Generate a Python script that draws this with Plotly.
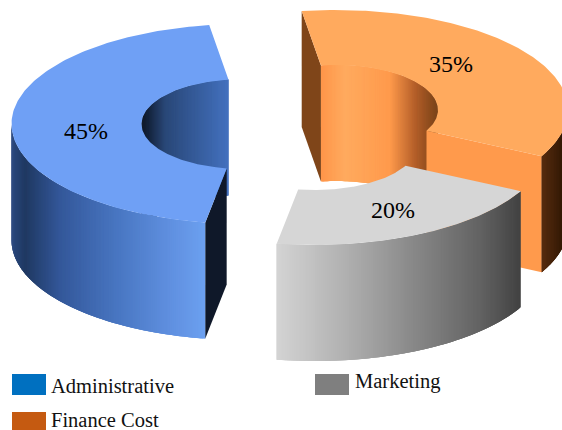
import numpy as np
import plotly.graph_objects as go

# ---- data ----
categories = ["Finance Cost", "Marketing", "Administrative"]
values = [35, 20, 45]

# ---- styles / layout ----
START = -8.5
RX, RY, IRX, IRY, DEPTH = 232, 100, 102, 45, 116
centers = {"Finance Cost": (336, 110), "Marketing": (315, 145), "Administrative": (243.5, 124)}
top_col = {"Finance Cost": "#FFAA5E", "Marketing": "#D6D6D6", "Administrative": "#6FA0F5"}
cut_col = {"Finance Cost": ("#7F4519", "#FF9A4C"), "Marketing": ("#999999", "#999999"),
           "Administrative": ("#0F1829", "#0F1829")}
outer_stops = {
    "Finance Cost": [(426, "#5A2E10"), (540, "#5A2E10"), (562, "#351A06")],
    "Marketing": [(276, "#D4D4D4"), (340, "#B4B4B4"), (420, "#858585"), (480, "#636363"), (521, "#424242")],
    "Administrative": [(12, "#2C4A80"), (25, "#203962"), (60, "#34589A"), (120, "#4A78C4"), (170, "#6090E0"), (204, "#6CA0F0")],
}
inner_stops = {
    "Finance Cost": [(321, "#FF964A"), (345, "#FFAB5F"), (390, "#FF9A4C"), (415, "#B5602A"), (437, "#7A4318")],
    "Marketing": [(299, "#999999"), (420, "#999999")],
    "Administrative": [(143, "#0E1829"), (165, "#2A4878"), (229, "#4472C0")],
}
label_pos = {"Finance Cost": (451, 64), "Marketing": (393, 210), "Administrative": (86, 131)}
legend_items = [("Administrative", "#0070C0", 12, 374, 395, 49, 386),
                ("Finance Cost", "#C55A11", 12, 412, 430, 49, 420),
                ("Marketing", "#7F7F7F", 315, 374, 395, 353, 381)]
FONT = "Liberation Serif"
STEP = 0.5


def interp_col(x, stops):
    xs = [s[0] for s in stops]
    out = []
    for i in (1, 3, 5):
        out.append(np.interp(x, xs, [int(s[1][i:i + 2], 16) for s in stops]))
    return "rgb(%d,%d,%d)" % tuple(out)


fig = go.Figure()


def poly(xs, ys, col, edge=0.0):
    fig.add_trace(go.Scatter(x=list(xs), y=list(ys), mode="lines", fill="toself", fillcolor=col,
                             line=dict(color=col, width=edge), hoverinfo="skip"))


def pt(c, rx, ry, deg):
    r = np.radians(deg)
    return c[0] + rx * np.sin(r), c[1] - ry * np.cos(r)


def wall(c, rx, ry, a, b, stops):
    ts = np.arange(a, b, STEP)
    for t0 in ts:
        # each strip runs on under the next one, so no seam shows between them
        t1 = min(t0 + 3 * STEP, b)
        x0, y0 = pt(c, rx, ry, t0)
        x1, y1 = pt(c, rx, ry, t1)
        xm, _ = pt(c, rx, ry, t0 + STEP / 2)
        poly([x0, x1, x1, x0, x0], [y0, y1, y1 + DEPTH, y0 + DEPTH, y0], interp_col(xm, stops))


def cut(c, deg, col):
    xo, yo = pt(c, RX, RY, deg)
    xi, yi = pt(c, IRX, IRY, deg)
    poly([xo, xi, xi, xo, xo], [yo, yi, yi + DEPTH, yo + DEPTH, yo], col)


def overlap(a, b, lo, hi):
    """Clip the sweep [a, b] to the visible arc [lo, hi], modulo a full turn."""
    for k in (-360, 0, 360):
        s, e = max(a, lo + k), min(b, hi + k)
        if e > s:
            return s, e
    return None


total = sum(values)
angle = START
slices = []
for name, v in zip(categories, values):
    sweep = 360 * v / total
    slices.append((name, v, angle, angle + sweep))
    angle += sweep

for name, v, a, b in slices:
    c = centers[name]
    rng = overlap(a, b, -90, 90)
    if rng:
        wall(c, IRX, IRY, rng[0], rng[1], inner_stops[name])
    if np.sin(np.radians(a)) < 0:
        cut(c, a, cut_col[name][0])
    if np.sin(np.radians(b)) > 0:
        cut(c, b, cut_col[name][1])
    rng = overlap(a, b, 90, 270)
    if rng:
        wall(c, RX, RY, rng[0], rng[1], outer_stops[name])
    ts = np.linspace(a, b, 160)
    ox, oy = pt(c, RX, RY, ts)
    ix, iy = pt(c, IRX, IRY, ts[::-1])
    poly(np.r_[ox, ix, ox[0]], np.r_[oy, iy, oy[0]], top_col[name])

annotations = []
for name, v, a, b in slices:
    lx, ly = label_pos[name]
    annotations.append(dict(x=lx, y=ly, text=f"{v}%", showarrow=False, xref="x", yref="y",
                            font=dict(family=FONT, size=24, color="#000000")))

shapes = []
for text, col, sx, sy0, sy1, tx, ty in legend_items:
    shapes.append(dict(type="rect", x0=sx, x1=sx + 34, y0=sy0, y1=sy1, xref="x", yref="y",
                       fillcolor=col, line=dict(width=0)))
    annotations.append(dict(x=tx, y=ty, text=text, showarrow=False, xref="x", yref="y", xanchor="left",
                            font=dict(family=FONT, size=20.5, color="#111111")))

fig.update_layout(
    width=562, height=430, margin=dict(l=0, r=0, t=0, b=0),
    paper_bgcolor="white", plot_bgcolor="white", showlegend=False,
    xaxis=dict(range=[0, 562], visible=False, fixedrange=True),
    yaxis=dict(range=[430, 0], visible=False, fixedrange=True),
    annotations=annotations, shapes=shapes,
)
fig.write_html("out.html", config={"displayModeBar": False},
               post_script="document.body.style.margin='0';document.documentElement.style.overflow='hidden';")
